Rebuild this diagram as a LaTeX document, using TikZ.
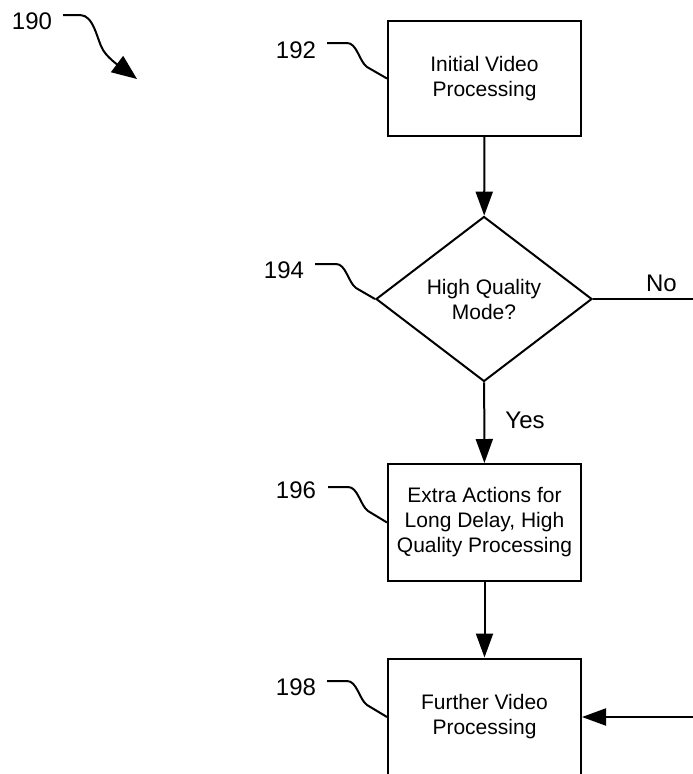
\documentclass[tikz,border=0pt]{standalone}
\usepackage{fontspec}
\setmainfont{Liberation Sans}
\usetikzlibrary{shapes.geometric,arrows.meta}
\begin{document}
\begin{tikzpicture}[x=1pt,y=-1pt,
  line width=2pt,
  every node/.style={font=\fontsize{21}{25}\selectfont},
  procbox/.style={draw,rectangle,minimum width=193pt,inner sep=0pt,align=center},
  decbox/.style={draw,diamond,aspect=1.31,minimum width=216pt,minimum height=165pt,inner sep=0pt,align=center},
  flow/.style={-{Triangle[length=24pt,width=17pt]}},
  lead/.style={line width=2pt},
  biglab/.style={inner sep=0pt,font=\fontsize{24}{28}\selectfont},
  numlab/.style={biglab,anchor=base east}]
\useasboundingbox (0,0) rectangle (693,774);
% nodes
\node[procbox,minimum height=115pt] (n192) at (484.5,78.5) {Initial Video\\Processing};
\node[decbox] (dec) at (484,299) {High Quality\\Mode?};
\node[procbox,minimum height=117pt] (n196) at (484.5,522.5) {Extra Actions for\\Long Delay, High\\Quality Processing};
\node[procbox,minimum height=117pt] (n198) at (484.5,717) {Further Video\\Processing};
% labels
\node[biglab,anchor=base west] (l190) at (11,29) {190};
\node[numlab] (l192) at (317,58) {192};
\node[numlab] (l194) at (305,278) {194};
\node[numlab] (l196) at (317,498) {196};
\node[numlab] (l198) at (317,695) {198};
\node[biglab,anchor=base] (no) at (661.5,291) {No};
\node[biglab,anchor=base] (yes) at (525,428) {Yes};
% coordinates
\coordinate (s190) at (63,15);
\coordinate (t190) at (137,79);
\coordinate (s192) at (327,43);
\coordinate (s194) at (315,264);
\coordinate (s196) at (328,487);
\coordinate (s198) at (327,681);
\coordinate (noend) at (696,299);
\coordinate (inright) at (696,717);
% figure arrow
\draw[-{Triangle[length=25pt,width=20pt]}] (s190) -- ++(17,0)
  .. controls +(14,0) and +(-6,-10) .. (103,50)
  .. controls +(6,10) and +(-12,-9) .. (t190);
% leaders
\draw[lead] (s192) -- ++(20,0) .. controls +(10,0) and +(-8,-6) .. ++(20,24) -- (n192.west);
\draw[lead] (s194) -- ++(21,0) .. controls +(10,0) and +(-8,-6) .. ++(20,24) -- (dec.west);
\draw[lead] (s196) -- ++(20,0) .. controls +(10,0) and +(-8,-6) .. ++(20,24) -- (n196.west);
\draw[lead] (s198) -- ++(20,0) .. controls +(10,0) and +(-8,-6) .. ++(20,24) -- (n198.west);
% flow
\draw[flow] (n192) -- (dec);
\draw[flow] (dec) -- (n196);
\draw[flow] (n196) -- (n198);
\draw (dec.east) -- (noend);
\draw[flow] (inright) -- (inright -| n198.east);
\end{tikzpicture}
\end{document}
